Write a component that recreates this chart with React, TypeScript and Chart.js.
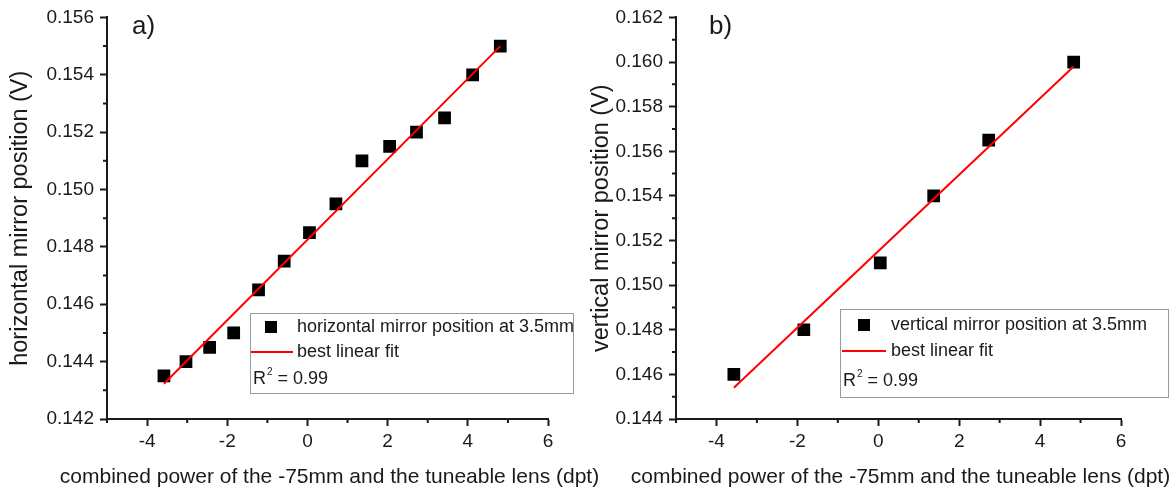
import React, { useEffect, useRef } from 'react';
import { Chart, registerables } from 'chart.js';

Chart.register(...registerables);

const FONT = "'Liberation Sans', Arial, sans-serif";

const xTitle = 'combined power of the -75mm and the tuneable lens (dpt)';
const xTicks = [-4, -2, 0, 2, 4, 6];
const xMinorTicks = [-5, -3, -1, 1, 3, 5];

// panel a) horizontal
const hPower = [-3.58, -3.03, -2.44, -1.84, -1.22, -0.58, 0.05, 0.71, 1.36, 2.05, 2.72, 3.42, 4.12, 4.81];
const hPosition = [0.1435, 0.144, 0.1445, 0.145, 0.1465, 0.1475, 0.1485, 0.1495, 0.151, 0.1515, 0.152, 0.1525, 0.154, 0.155];
const hFitPower = [-3.58, 4.81];
const hFitPosition = [0.14323, 0.155];
const hYTicks = [0.142, 0.144, 0.146, 0.148, 0.15, 0.152, 0.154, 0.156];
const hYMinorTicks = [0.143, 0.145, 0.147, 0.149, 0.151, 0.153, 0.155];
const hYTitle = 'horizontal mirror position (V)';
const hLegend = 'horizontal mirror position at 3.5mm';

// panel b) vertical
const vPower = [-3.57, -1.84, 0.05, 1.37, 2.73, 4.83];
const vPosition = [0.146, 0.148, 0.151, 0.154, 0.1565, 0.16];
const vFitPower = [-3.57, 4.83];
const vFitPosition = [0.1454, 0.1598];
const vYTicks = [0.144, 0.146, 0.148, 0.15, 0.152, 0.154, 0.156, 0.158, 0.16, 0.162];
const vYMinorTicks = [0.145, 0.147, 0.149, 0.151, 0.153, 0.155, 0.157, 0.159, 0.161];
const vYTitle = 'vertical mirror position (V)';
const vLegend = 'vertical mirror position at 3.5mm';

const fitLabel = 'best linear fit';
const r2Value = '0.99';

const AXIS = '#1a1a1a';
const TEXT = '#1a1a1a';

type PanelProps = {
  left: number;
  width: number;
  letter: string;
  letterDx: number;
  power: number[];
  position: number[];
  fitPower: number[];
  fitPosition: number[];
  yTicks: number[];
  yMinor: number[];
  yTitle: string;
  legendText: string;
  yWidth: number;
  padRight: number;
  yTitlePad: number;
  legendBox: { x: number; y: number; w: number; h: number; sq: number; tx: number; lx1: number; lx2: number; rows: number[] };
};

function Panel(p: PanelProps) {
  const ref = useRef<HTMLCanvasElement | null>(null);
  useEffect(() => {
    if (!ref.current) return;
    const deco = {
      id: 'deco',
      afterDraw(chart: any) {
        const ctx = chart.ctx;
        const xs = chart.scales.x;
        const ys = chart.scales.y;
        const area = chart.chartArea;
        ctx.save();
        ctx.strokeStyle = AXIS;
        ctx.lineWidth = 2;
        ctx.beginPath();
        xMinorTicks.forEach((v) => {
          const px = xs.getPixelForValue(v);
          ctx.moveTo(px, xs.top);
          ctx.lineTo(px, xs.top + 4);
        });
        p.yMinor.forEach((v) => {
          const py = ys.getPixelForValue(v);
          ctx.moveTo(ys.right, py);
          ctx.lineTo(ys.right - 4, py);
        });
        ctx.stroke();

        // x axis title (extends beyond the plot area, as in the original)
        ctx.fillStyle = TEXT;
        ctx.font = `21px ${FONT}`;
        ctx.textAlign = 'center';
        ctx.textBaseline = 'alphabetic';
        ctx.fillText(xTitle, (area.left + area.right) / 2 + 2, 483);

        // panel letter
        ctx.font = `26px ${FONT}`;
        ctx.textBaseline = 'middle';
        ctx.textAlign = 'left';
        ctx.fillText(p.letter, area.left + p.letterDx, 27);

        // legend box
        const b = p.legendBox;
        ctx.fillStyle = '#fff';
        ctx.fillRect(b.x, b.y, b.w, b.h);
        ctx.strokeStyle = '#9a9a9a';
        ctx.lineWidth = 1;
        ctx.strokeRect(b.x + 0.5, b.y + 0.5, b.w, b.h);
        ctx.fillStyle = '#000';
        ctx.fillRect(b.sq - 6, b.rows[0] - 6, 12, 12);
        ctx.strokeStyle = '#ff0000';
        ctx.lineWidth = 2;
        ctx.beginPath();
        ctx.moveTo(b.lx1, b.rows[1]);
        ctx.lineTo(b.lx2, b.rows[1]);
        ctx.stroke();
        ctx.fillStyle = TEXT;
        ctx.font = `18px ${FONT}`;
        ctx.textBaseline = 'middle';
        ctx.fillText(p.legendText, b.tx, b.rows[0]);
        ctx.fillText(fitLabel, b.tx, b.rows[1]);
        const rx = b.x + 3;
        ctx.fillText('R', rx, b.rows[2]);
        const rw = ctx.measureText('R').width;
        ctx.font = `10px ${FONT}`;
        ctx.fillText('2', rx + rw + 1, b.rows[2] - 7);
        const sw = ctx.measureText('2').width;
        ctx.font = `18px ${FONT}`;
        ctx.fillText(' = ' + r2Value, rx + rw + sw + 1, b.rows[2]);
        ctx.restore();
      },
    };
    const chart = new Chart(ref.current, {
      type: 'scatter',
      data: {
        datasets: [
          {
            label: fitLabel,
            data: p.fitPower.map((x, i) => ({ x, y: p.fitPosition[i] })),
            showLine: true,
            borderColor: '#ff0000',
            borderWidth: 2,
            pointRadius: 0,
            fill: false,
            order: 0,
          } as any,
          {
            label: p.legendText,
            data: p.power.map((x, i) => ({ x, y: p.position[i] })),
            pointStyle: 'rect',
            pointRadius: 9,
            backgroundColor: '#000',
            borderColor: '#000',
            borderWidth: 0,
            order: 1,
          },
        ],
      },
      options: {
        animation: false,
        responsive: false,
        events: [],
        layout: { padding: { left: 0, right: p.padRight, top: 16, bottom: 0 } },
        plugins: { legend: { display: false }, tooltip: { enabled: false } },
        scales: {
          x: {
            type: 'linear',
            min: -5,
            max: 6,
            afterBuildTicks: (s: any) => {
              s.ticks = xTicks.map((v) => ({ value: v }));
            },
            afterFit: (s: any) => {
              s.height = 71;
            },
            border: { display: true, color: AXIS, width: 2 },
            grid: { display: true, drawOnChartArea: false, drawTicks: true, tickLength: 7, tickWidth: 2, tickColor: AXIS },
            ticks: { color: TEXT, font: { family: FONT, size: 19 }, padding: 4, callback: (v: any) => String(v) },
            title: { display: false, text: xTitle },
          },
          y: {
            type: 'linear',
            min: p.yTicks[0],
            max: p.yTicks[p.yTicks.length - 1],
            afterBuildTicks: (s: any) => {
              s.ticks = p.yTicks.map((v) => ({ value: v }));
            },
            afterFit: (s: any) => {
              s.width = p.yWidth;
            },
            border: { display: true, color: AXIS, width: 2 },
            grid: { display: true, drawOnChartArea: false, drawTicks: true, tickLength: 7, tickWidth: 2, tickColor: AXIS },
            ticks: { color: TEXT, font: { family: FONT, size: 19 }, padding: 6, callback: (v: any) => Number(v).toFixed(3) },
            title: { display: true, text: p.yTitle, color: TEXT, font: { family: FONT, size: 23.5 }, padding: { top: p.yTitlePad, bottom: 0 } },
          },
        },
      },
      plugins: [deco],
    });
    return () => chart.destroy();
  }, []);
  return (
    <canvas
      ref={ref}
      width={p.width}
      height={490}
      style={{ position: 'absolute', left: p.left, top: 0, width: p.width, height: 490 }}
    />
  );
}

export default function App() {
  return (
    <div style={{ position: 'fixed', left: 0, top: 0, width: 1174, height: 490, background: '#fff' }}>
      <Panel
        left={0}
        width={620}
        letter="a)"
        letterDx={25}
        power={hPower}
        position={hPosition}
        fitPower={hFitPower}
        fitPosition={hFitPosition}
        yTicks={hYTicks}
        yMinor={hYMinorTicks}
        yTitle={hYTitle}
        legendText={hLegend}
        yWidth={107}
        padRight={72}
        yTitlePad={6}
        legendBox={{ x: 250, y: 313, w: 323, h: 80, sq: 271, tx: 297, lx1: 251, lx2: 293, rows: [327, 352, 379] }}
      />
      <Panel
        left={587}
        width={587}
        letter="b)"
        letterDx={33}
        power={vPower}
        position={vPosition}
        fitPower={vFitPower}
        fitPosition={vFitPosition}
        yTicks={vYTicks}
        yMinor={vYMinorTicks}
        yTitle={vYTitle}
        legendText={vLegend}
        yWidth={89}
        padRight={53}
        yTitlePad={0}
        legendBox={{ x: 253, y: 309, w: 328, h: 88, sq: 277, tx: 304, lx1: 255, lx2: 299, rows: [325, 351, 381] }}
      />
    </div>
  );
}
